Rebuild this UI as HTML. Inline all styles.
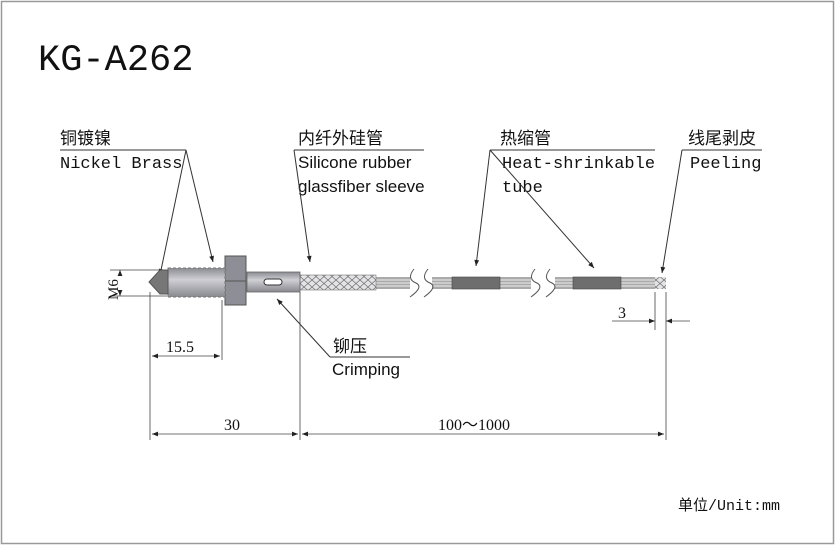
<!DOCTYPE html>
<html><head><meta charset="utf-8"><style>
html,body{margin:0;padding:0;background:#fff;width:835px;height:545px;overflow:hidden}
</style></head><body>
<svg width="835" height="545" viewBox="0 0 835 545" xmlns="http://www.w3.org/2000/svg">
<defs>
<marker id="a" viewBox="0 0 10 10" refX="10" refY="5" markerWidth="9" markerHeight="6" orient="auto-start-reverse" markerUnits="userSpaceOnUse"><path d="M0,1 L10,5 L0,9 z" fill="#222"/></marker>
<pattern id="br" width="8" height="7" patternUnits="userSpaceOnUse"><rect width="8" height="7" fill="#e4e4e8"/><path d="M0,0 L8,7 M8,0 L0,7" stroke="#777" stroke-width="0.8"/></pattern>
<linearGradient id="g" x1="0" y1="0" x2="0" y2="1"><stop offset="0" stop-color="#8a8a92"/><stop offset="0.4" stop-color="#cfcfd4"/><stop offset="1" stop-color="#88888f"/></linearGradient>
</defs>
<rect x="1.5" y="1.5" width="832" height="542" fill="none" stroke="#999" stroke-width="1.5"/>
<text x="38" y="70" font-family="Liberation Mono, monospace" font-size="37" fill="#111">KG-A262</text>

<g font-family="Liberation Sans, Noto Sans CJK SC, sans-serif" font-size="17" fill="#111">
<text x="60" y="144">铜镀镍</text>
<text x="298" y="144">内纤外硅管</text>
<text x="500" y="144">热缩管</text>
<text x="688" y="144">线尾剥皮</text>
<text x="333" y="352">铆压</text>
</g>
<text x="678" y="510" font-family="Liberation Mono, Noto Sans CJK SC, monospace" font-size="15" fill="#111">单位/Unit:mm</text>
<g font-family="Liberation Mono, monospace" font-size="17" fill="#111">
<text x="60" y="168">Nickel Brass</text>
<text x="502" y="168">Heat-shrinkable</text>
<text x="502" y="192">tube</text>
<text x="690" y="168">Peeling</text>
</g>
<g font-family="Liberation Serif, serif" font-size="16" fill="#111">
<text x="166" y="352">15.5</text>
<text x="224" y="430">30</text>
<text x="438" y="430">100～1000</text>
<text x="618" y="318">3</text>
</g>
<g font-family="Liberation Sans, sans-serif" font-size="17" fill="#111">
<text x="298" y="168">Silicone rubber</text>
<text x="298" y="192">glassfiber sleeve</text>
<text x="332" y="375">Crimping</text>
</g>

<g stroke="#333" stroke-width="1" fill="none">
<path d="M60,150H186 M294,150H424 M490,150H655 M682,150H762 M330,357H410"/>
<path d="M186,150L160,275" marker-end="url(#a)"/>
<path d="M186,150L213,262" marker-end="url(#a)"/>
<path d="M294,150L310,262" marker-end="url(#a)"/>
<path d="M490,150L476,266" marker-end="url(#a)"/>
<path d="M490,150L594,268" marker-end="url(#a)"/>
<path d="M682,150L662,273" marker-end="url(#a)"/>
<path d="M330,357L277,299" marker-end="url(#a)"/>
</g>

<g>
<rect x="376" y="277" width="246" height="12" fill="#aaa"/>
<path d="M376,280H622M376,283H622M376,286H622" stroke="#eee" stroke-width="1"/>
<rect x="452" y="277" width="48" height="12" fill="#6e6e6e" stroke="#444" stroke-width="0.6"/>
<rect x="573" y="277" width="48" height="12" fill="#6e6e6e" stroke="#444" stroke-width="0.6"/>
<rect x="410" y="270" width="22" height="26" fill="#fff"/>
<rect x="531" y="270" width="24" height="26" fill="#fff"/>
<path d="M414,269 q-8,10 2,14 q8,4 -6,14 M428,269 q-8,10 2,14 q8,4 -6,14 M535,269 q-8,10 2,14 q8,4 -6,14 M550,269 q-8,10 2,14 q8,4 -6,14" stroke="#555" fill="none"/>
<rect x="622" y="277" width="44" height="12" fill="#aaa"/>
<path d="M622,280H655M622,283H655M622,286H655" stroke="#eee"/>
<rect x="655" y="277" width="11" height="12" fill="url(#br)"/>
<rect x="300" y="275" width="76" height="15" fill="url(#br)" stroke="#777" stroke-width="0.6"/>
<rect x="247" y="272" width="53" height="20" fill="url(#g)" stroke="#666" stroke-width="0.8"/>
<rect x="264" y="279" width="18" height="6" rx="3" fill="#fff" stroke="#333"/>
<rect x="225" y="256" width="21" height="49" fill="#8e8e96" stroke="#555"/>
<path d="M225,281H246" stroke="#555"/>
<rect x="168" y="268" width="57" height="29" fill="url(#g)" stroke="#777" stroke-dasharray="3,2"/>
<path d="M168,270 L160,270 L149,282 L160,294 L168,294 z" fill="#777" stroke="#555"/>
</g>

<g stroke="#444" stroke-width="0.8" fill="none">
<path d="M150,292V440 M222,300V360 M300,292V440 M666,292V440 M655,292V330 M666,292V330"/>
<path d="M110,270H160 M110,296H168"/>
<path d="M120,276V270" marker-end="url(#a)"/><path d="M120,290V296" marker-end="url(#a)"/>
<path d="M152,356H220" marker-start="url(#a)" marker-end="url(#a)"/>
<path d="M152,434H298" marker-start="url(#a)" marker-end="url(#a)"/>
<path d="M302,434H664" marker-start="url(#a)" marker-end="url(#a)"/>
<path d="M612,321H655" marker-end="url(#a)"/><path d="M690,321H666" marker-end="url(#a)"/>
</g>
<text x="0" y="0" transform="translate(118,300) rotate(-90)" font-family="Liberation Serif, serif" font-size="15" fill="#111">M6</text>
</svg>
</body></html>
